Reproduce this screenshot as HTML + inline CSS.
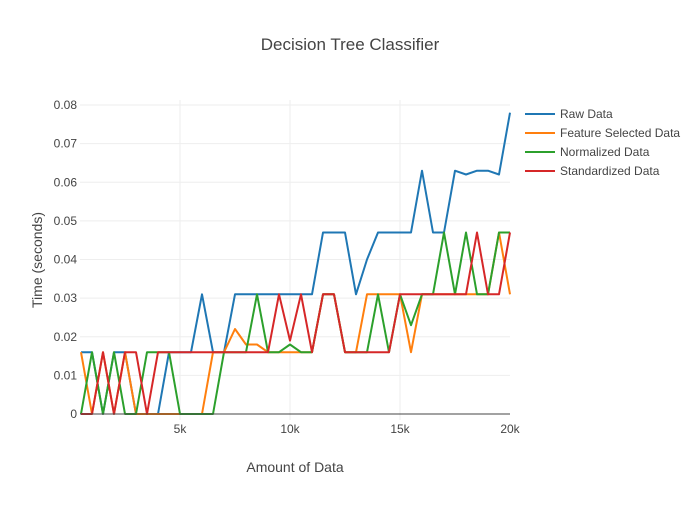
<!DOCTYPE html>
<html><head><meta charset="utf-8"><style>
body{margin:0;background:#fff;}
svg{font-family:"Liberation Sans",sans-serif;}
</style></head><body>
<svg id="chart" width="700" height="500">
<text x="350" y="50" text-anchor="middle" font-size="17" fill="#444">Decision Tree Classifier</text>
<g id="grid"></g><g id="series"></g><g id="axes"></g>
<text x="295" y="472" text-anchor="middle" font-size="14" fill="#444">Amount of Data</text>
<text transform="translate(42,260) rotate(-90)" text-anchor="middle" font-size="14" fill="#444">Time (seconds)</text>
<g id="legend"></g>
</svg>
<script>
const xValues = Array.from({length:40},(_,i)=>500*(i+1));
const seriesNames = ["Raw Data","Feature Selected Data","Normalized Data","Standardized Data"];
const rawData = [.016,.016,0,.016,.016,0,0,0,.016,.016,.016,.031,.016,.016,.031,.031,.031,.031,.031,.031,.031,.031,.047,.047,.047,.031,.040,.047,.047,.047,.047,.063,.047,.047,.063,.062,.063,.063,.062,.078];
const featureData = [.016,0,.016,0,.016,0,0,0,0,0,0,0,.016,.016,.022,.018,.018,.016,.016,.016,.016,.016,.031,.031,.016,.016,.031,.031,.031,.031,.016,.031,.031,.031,.031,.031,.031,.031,.047,.031];
const normalizedData = [0,.016,0,.016,0,0,.016,.016,.016,0,0,0,0,.016,.016,.016,.031,.016,.016,.018,.016,.016,.031,.031,.016,.016,.016,.031,.016,.031,.023,.031,.031,.047,.031,.047,.031,.031,.047,.047];
const standardizedData = [0,0,.016,0,.016,.016,0,.016,.016,.016,.016,.016,.016,.016,.016,.016,.016,.016,.031,.019,.031,.016,.031,.031,.016,.016,.016,.016,.016,.031,.031,.031,.031,.031,.031,.031,.047,.031,.031,.047];
const yTicks = [0,0.01,0.02,0.03,0.04,0.05,0.06,0.07,0.08];
const yTickLabels = ["0","0.01","0.02","0.03","0.04","0.05","0.06","0.07","0.08"];
const xTicks = [5000,10000,15000,20000];
const xTickLabels = ["5k","10k","15k","20k"];
const colors = ["#1f77b4","#ff7f0e","#2ca02c","#d62728"];
const allSeries = [rawData,featureData,normalizedData,standardizedData];
const X0=80,X1=510,YT=100,YB=420;
const xs = v => 70 + v*0.022;
const ys = v => 414 - v*3862.5;
const NS="http://www.w3.org/2000/svg";
function mk(tag,attrs,parent){const e=document.createElementNS(NS,tag);for(const k in attrs)e.setAttribute(k,attrs[k]);parent.appendChild(e);return e;}
const grid=document.getElementById('grid'),axes=document.getElementById('axes'),ser=document.getElementById('series'),leg=document.getElementById('legend');
yTicks.forEach((t,i)=>{
  if(t!==0){const l=mk('line',{x1:X0,x2:X1,y1:ys(t),y2:ys(t),stroke:'#eee','stroke-width':1},grid);
  
  }
  const tx=mk('text',{x:77,y:ys(t)+4,'text-anchor':'end','font-size':12,fill:'#444'},axes);
  tx.textContent=yTickLabels[i];
  
  
});
xTicks.forEach((t,i)=>{
  if(t<20000){const l=mk('line',{x1:xs(t),x2:xs(t),y1:YT,y2:YB,stroke:'#eee','stroke-width':1},grid);
  
  }
  const tx=mk('text',{x:xs(t),y:433,'text-anchor':'middle','font-size':12,fill:'#444'},axes);
  tx.textContent=xTickLabels[i];
  
  
});
const zl=mk('line',{x1:X0,x2:X1,y1:ys(0),y2:ys(0),stroke:'#444','stroke-width':1},axes);


allSeries.forEach((d,s)=>{
  const pts=d.map((v,i)=>xs(xValues[i]).toFixed(1)+','+ys(v).toFixed(1)).join(' ');
  const p=mk('polyline',{points:pts,fill:'none',stroke:colors[s],'stroke-width':2,'stroke-linejoin':'round'},ser);
  
  
  const ly=114+19*s;
  const g=mk('g',{},leg);
  
  
  mk('line',{x1:525,x2:555,y1:ly,y2:ly,stroke:colors[s],'stroke-width':2},g);
  const t=mk('text',{x:560,y:ly+4,'font-size':12,fill:'#444'},g);
  t.textContent=seriesNames[s];
});
</script>
</body></html>
